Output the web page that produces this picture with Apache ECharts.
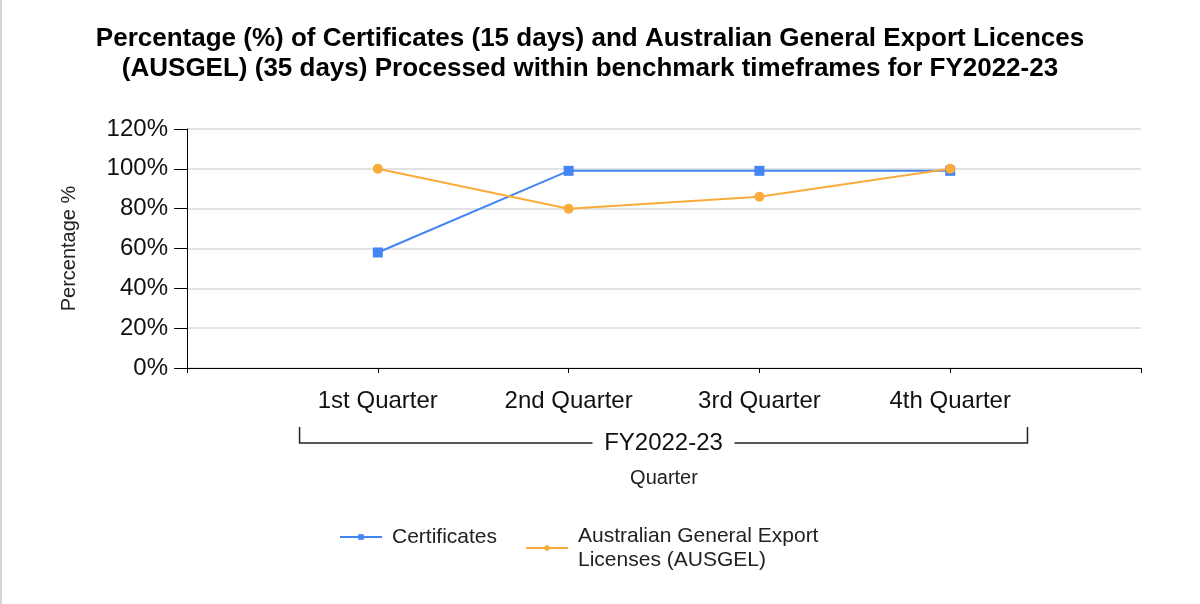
<!DOCTYPE html>
<html>
<head>
<meta charset="utf-8">
<script src="https://cdn.jsdelivr.net/npm/echarts@6/dist/echarts.min.js"></script>
<style>
html, body { margin: 0; padding: 0; background: #fff; }
#main { width: 1200px; height: 604px; border-left: 2px solid #d6d6d6; box-sizing: border-box; }
</style>
</head>
<body>
<div id="main"></div>
<script>
var quarters = ['1st Quarter', '2nd Quarter', '3rd Quarter', '4th Quarter'];
var certificates = [58, 99, 99, 99];
var ausgel = [100, 80, 86, 100];
var yTicks = [0, 20, 40, 60, 80, 100, 120];
var groupLabel = 'FY2022-23';

var font = 'Arial, "Liberation Sans", sans-serif';
var myChart = echarts.init(document.getElementById('main'));

// one empty slot each side so the quarters sit inside the axis like the original
var xData = [''].concat(quarters).concat(['']);
var certData = [null].concat(certificates).concat([null]);
var ausgelData = [null].concat(ausgel).concat([null]);

var legendText = { fontFamily: font, fontSize: 21, lineHeight: 24, color: '#222', padding: [0, 0, 0, 5] };

var option = {
    animation: false,
    title: {
        text: 'Percentage (%) of Certificates (15 days) and Australian General Export Licences\n(AUSGEL) (35 days) Processed within benchmark timeframes for FY2022-23',
        left: 583,
        top: 19,
        textAlign: 'center',
        textStyle: {
            fontFamily: font,
            fontWeight: 'bold',
            fontSize: 26,
            lineHeight: 30,
            color: '#000'
        }
    },
    grid: { left: 185, right: 59, top: 129, bottom: 236, containLabel: false },
    legend: [
        {
            left: 332,
            top: 520,
            itemWidth: 42,
            itemHeight: 7,
            textStyle: legendText,
            data: ['Certificates']
        },
        {
            left: 518,
            top: 519,
            itemWidth: 42,
            itemHeight: 7,
            textStyle: legendText,
            formatter: function (name) {
                return name.replace('Export Licenses', 'Export\nLicenses');
            },
            data: ['Australian General Export Licenses (AUSGEL)']
        }
    ],
    xAxis: {
        type: 'category',
        data: xData,
        boundaryGap: false,
        name: 'Quarter',
        nameLocation: 'middle',
        nameGap: 100,
        nameTextStyle: { fontFamily: font, fontSize: 20, color: '#222' },
        axisLine: { lineStyle: { color: '#000', width: 1 } },
        axisTick: { length: 5, lineStyle: { color: '#000' } },
        axisLabel: { fontFamily: font, fontSize: 24, color: '#111', margin: 21, interval: 0 },
        splitLine: { show: false }
    },
    yAxis: {
        type: 'value',
        min: yTicks[0],
        max: yTicks[yTicks.length - 1],
        interval: yTicks[1] - yTicks[0],
        name: 'Percentage %',
        nameLocation: 'middle',
        nameGap: 108,
        nameTextStyle: { fontFamily: font, fontSize: 20, color: '#222' },
        axisLine: { show: true, lineStyle: { color: '#000', width: 1 } },
        axisTick: { show: true, length: 13, lineStyle: { color: '#000' } },
        axisLabel: { fontFamily: font, fontSize: 24, color: '#111', margin: 19, formatter: '{value}%' },
        splitLine: { lineStyle: { color: '#dadada', width: 1.5 } }
    },
    series: [
        {
            name: 'Certificates',
            type: 'line',
            data: certData,
            symbol: 'rect',
            symbolSize: 10,
            color: '#4285f4',
            lineStyle: { width: 2, color: '#4285f4' },
            itemStyle: { color: '#4285f4' }
        },
        {
            name: 'Australian General Export Licenses (AUSGEL)',
            type: 'line',
            data: ausgelData,
            symbol: 'circle',
            symbolSize: 10,
            color: '#f9ab3b',
            lineStyle: { width: 2, color: '#f9ab3b' },
            itemStyle: { color: '#f9ab3b' }
        }
    ]
};
myChart.setOption(option);

// group bracket under the quarter labels, placed from the axis scale
var q1 = myChart.convertToPixel({ xAxisIndex: 0 }, quarters[0]);
var q2 = myChart.convertToPixel({ xAxisIndex: 0 }, quarters[1]);
var q4 = myChart.convertToPixel({ xAxisIndex: 0 }, quarters[quarters.length - 1]);
var y0 = myChart.convertToPixel({ yAxisIndex: 0 }, 0);
var step = q2 - q1;
var bl = q1 - 0.41 * step;
var br = q4 + 0.405 * step;
var bTop = y0 + 59;
var bBot = y0 + 75;
var mid = (bl + br) / 2;
var gapHalf = 71;
var lineStyle = { stroke: '#222', lineWidth: 1.5 };

myChart.setOption({
    graphic: [
        { type: 'polyline', shape: { points: [[bl, bTop], [bl, bBot], [mid - gapHalf, bBot]] }, style: lineStyle, silent: true },
        { type: 'polyline', shape: { points: [[mid + gapHalf, bBot], [br, bBot], [br, bTop]] }, style: lineStyle, silent: true },
        {
            type: 'text',
            x: mid,
            y: bBot,
            style: { text: groupLabel, font: '24px ' + font, fill: '#111', align: 'center', verticalAlign: 'middle' },
            silent: true
        }
    ]
});
</script>
</body>
</html>
